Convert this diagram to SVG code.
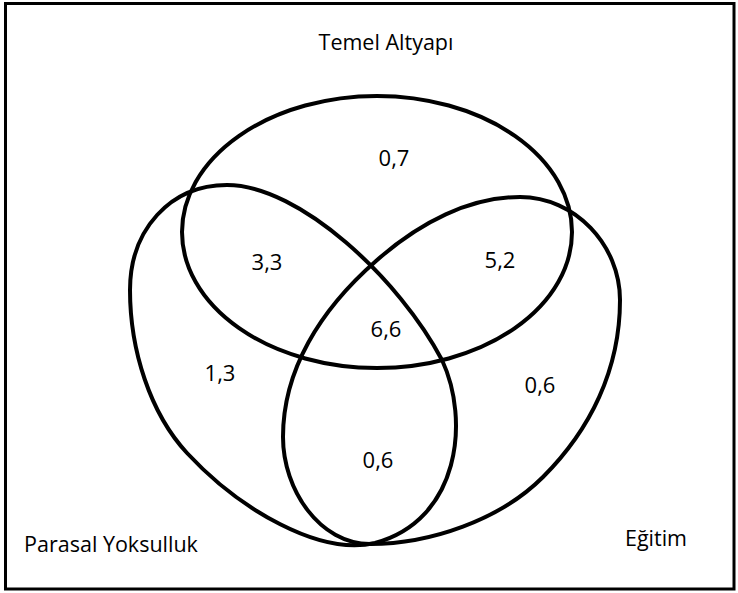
<svg xmlns="http://www.w3.org/2000/svg" width="738" height="593" viewBox="0 0 738 593">
  <style>
    .set { fill: none; stroke: #000; stroke-width: 4; }
    .frame { fill: #fff; stroke: #000; stroke-width: 3; }
    .lbl { font-family: "Open Sans", "Liberation Sans", sans-serif; font-size: 21.5px; fill: #000; text-anchor: middle; }
    .num { font-family: "Open Sans", "Liberation Sans", sans-serif; font-size: 22px; fill: #000; text-anchor: middle; }
  </style>
  <rect class="frame" x="5.5" y="3.5" width="728.5" height="585.5"/>
  <g id="temel-altyapi">
    <ellipse class="set" cx="377" cy="232" rx="195" ry="136"/>
    <text class="lbl" x="386" y="50">Temel Altyapı</text>
  </g>
  <g id="parasal-yoksulluk">
    <path class="set" d="M 227,185 C 300,185 400,280 442,360 C 470,420 460,520 375,543 C 320,556 240,510 187,453 C 150,413 130,350 130,290 C 130,230 170,185 227,185 Z"/>
    <text class="lbl" x="111" y="552">Parasal Yoksulluk</text>
  </g>
  <g id="egitim">
    <path class="set" d="M 520,197 C 575,197 620,245 620,300 C 620,370 590,430 543,477 C 500,520 430,544 370,544 C 320,544 283,490 283,437 C 283,370 320,310 376,261 C 420,222 470,197 520,197 Z"/>
    <text class="lbl" x="656" y="546">Eğitim</text>
  </g>
  <g id="values">
    <text class="num" x="394" y="166">0,7</text>
    <text class="num" x="267" y="270">3,3</text>
    <text class="num" x="500" y="268">5,2</text>
    <text class="num" x="386" y="337">6,6</text>
    <text class="num" x="220" y="381">1,3</text>
    <text class="num" x="540" y="393">0,6</text>
    <text class="num" x="378" y="468">0,6</text>
  </g>
</svg>
